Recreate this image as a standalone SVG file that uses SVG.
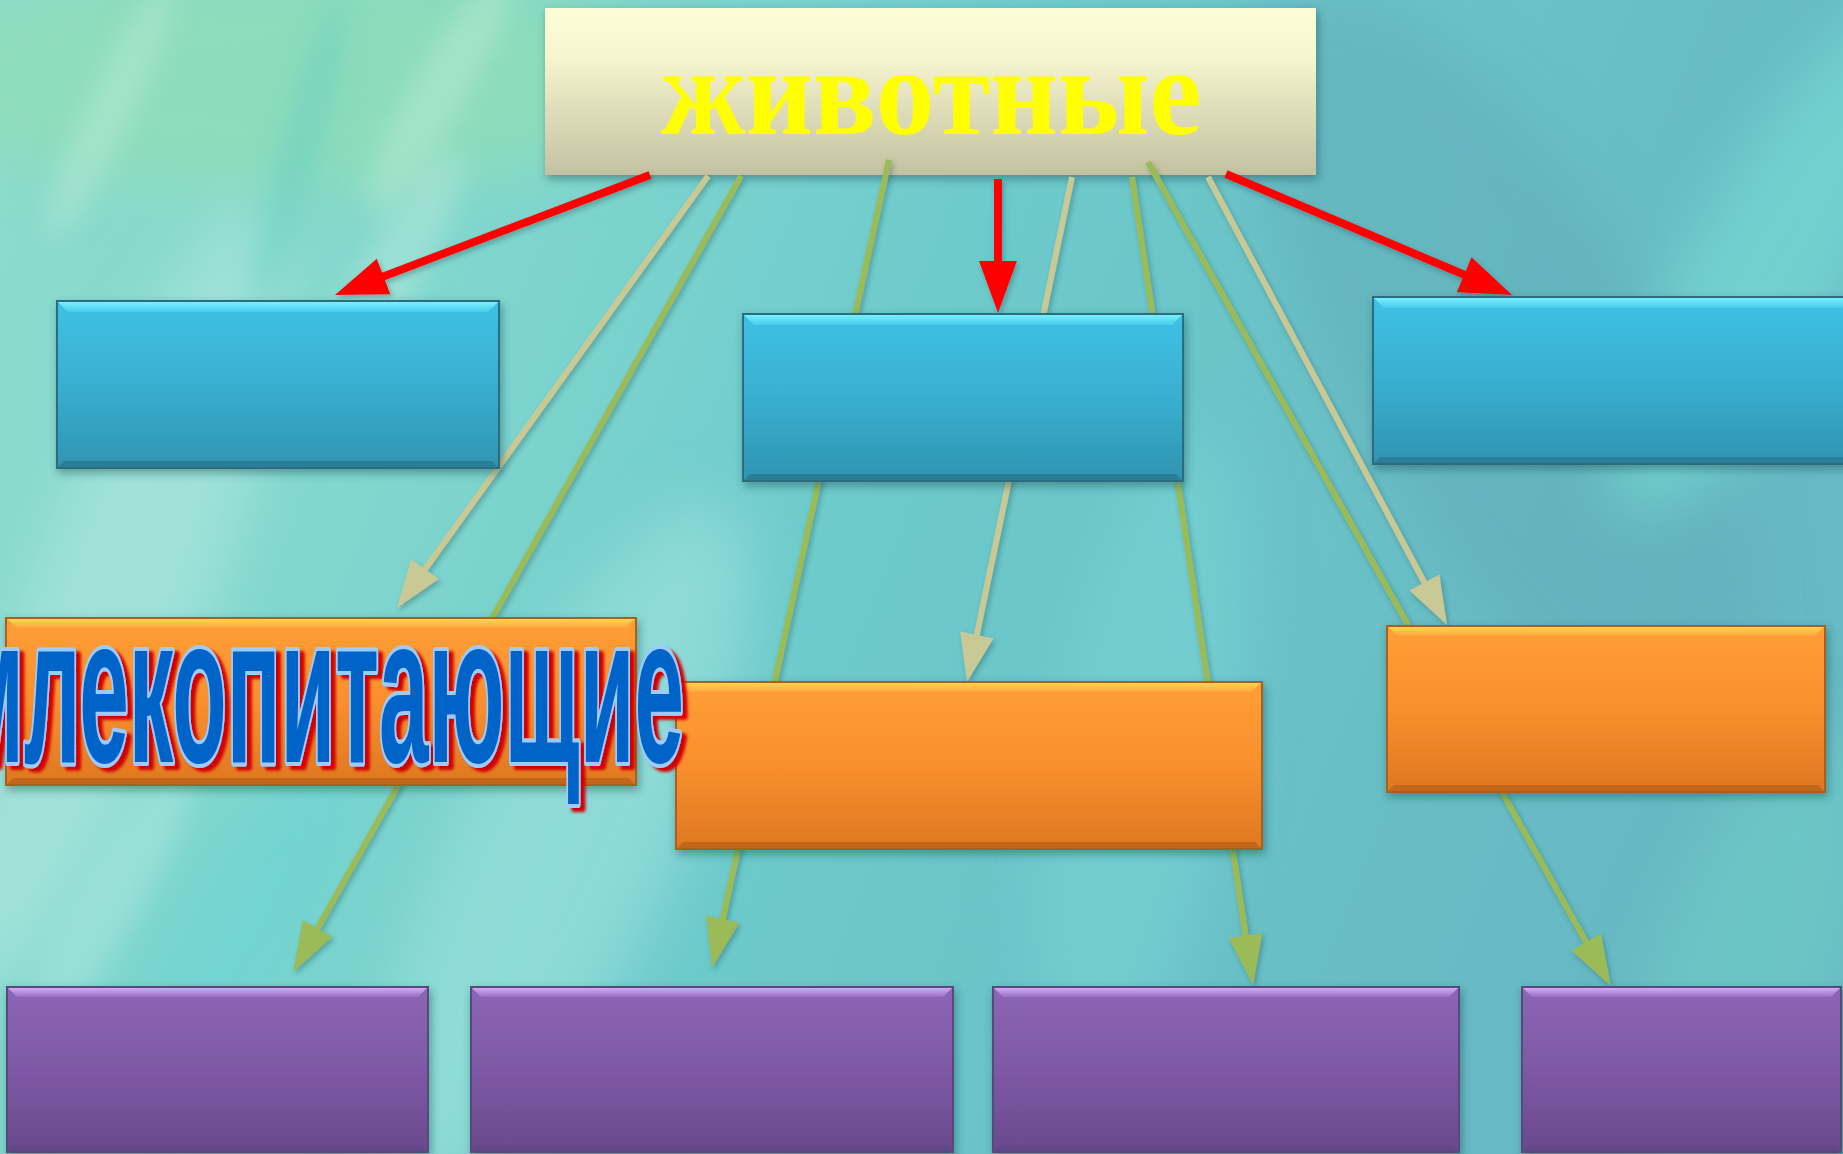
<svg xmlns="http://www.w3.org/2000/svg" width="1843" height="1154" viewBox="0 0 1843 1154">
<style>
.lnR{stroke:#FF0000;stroke-width:8;fill:none;marker-end:url(#mR)}
.lnK{stroke:#C9C995;stroke-width:6;fill:none;marker-end:url(#mK)}
.lnG{stroke:#9BBB59;stroke-width:6;fill:none;marker-end:url(#mG)}
.bdB{fill:url(#gBlue);stroke:#2B6C80;stroke-width:2}
.bdO{fill:url(#gOrange);stroke:#A8601F;stroke-width:2}
.bdP{fill:url(#gPurple);stroke:#584878;stroke-width:2}
.tB{fill:url(#gBlueTop)}
.tO{fill:url(#gOrangeTop)}
.tP{fill:url(#gPurpleTop)}
.btB{fill:#2B7E97}
.btO{fill:#C2661C}
.btP{fill:#62478A}
</style>
<defs>
<linearGradient id="bg" x1="0" y1="0" x2="1" y2="0.25">
<stop offset="0" stop-color="#8EDCCC"/>
<stop offset="0.3" stop-color="#80D6CE"/>
<stop offset="0.55" stop-color="#6DCACB"/>
<stop offset="1" stop-color="#67B9C3"/>
</linearGradient>
<filter id="blur40" x="-50%" y="-50%" width="200%" height="200%"><feGaussianBlur stdDeviation="30"/></filter>
<filter id="blur15" x="-50%" y="-50%" width="200%" height="200%"><feGaussianBlur stdDeviation="14"/></filter>
<filter id="sh" x="-10%" y="-10%" width="120%" height="130%"><feDropShadow dx="2" dy="4" stdDeviation="4" flood-color="#1E4650" flood-opacity="0.45"/></filter>
<filter id="lsh" x="-20%" y="-20%" width="140%" height="140%"><feDropShadow dx="2" dy="3" stdDeviation="2.5" flood-color="#1E4650" flood-opacity="0.35"/></filter>
<filter id="redsh" x="-10%" y="-20%" width="120%" height="140%"><feDropShadow dx="5" dy="4" stdDeviation="1.8" flood-color="#D00000" flood-opacity="1"/></filter>
<linearGradient id="gTitle" x1="0" y1="0" x2="0" y2="1">
<stop offset="0" stop-color="#FDFDD8"/>
<stop offset="0.3" stop-color="#F6F5CE"/>
<stop offset="0.6" stop-color="#E0DEBA"/>
<stop offset="1" stop-color="#C3C1A1"/>
</linearGradient>
<linearGradient id="gBlue" x1="0" y1="0" x2="0" y2="1">
<stop offset="0" stop-color="#3FC1E5"/>
<stop offset="0.5" stop-color="#39AFD0"/>
<stop offset="1" stop-color="#2F94B1"/>
</linearGradient>
<linearGradient id="gBlueTop" x1="0" y1="0" x2="0" y2="1">
<stop offset="0" stop-color="#78F0FF"/>
<stop offset="1" stop-color="#48CBEA"/>
</linearGradient>
<linearGradient id="gOrange" x1="0" y1="0" x2="0" y2="1">
<stop offset="0" stop-color="#FF9F36"/>
<stop offset="0.5" stop-color="#F98F2D"/>
<stop offset="1" stop-color="#DE7722"/>
</linearGradient>
<linearGradient id="gOrangeTop" x1="0" y1="0" x2="0" y2="1">
<stop offset="0" stop-color="#FFD45A"/>
<stop offset="1" stop-color="#FFA63A"/>
</linearGradient>
<linearGradient id="gPurple" x1="0" y1="0" x2="0" y2="1">
<stop offset="0" stop-color="#8C66B6"/>
<stop offset="0.5" stop-color="#7E59A5"/>
<stop offset="1" stop-color="#69498C"/>
</linearGradient>
<linearGradient id="gPurpleTop" x1="0" y1="0" x2="0" y2="1">
<stop offset="0" stop-color="#D4AAF8"/>
<stop offset="1" stop-color="#9571C4"/>
</linearGradient>
<marker id="mR" markerUnits="userSpaceOnUse" markerWidth="60" markerHeight="60" refX="22" refY="19" orient="auto" overflow="visible"><path d="M0,0 L52,19 L0,38 z" fill="#FF0000"/></marker>
<marker id="mK" markerUnits="userSpaceOnUse" markerWidth="60" markerHeight="60" refX="18" refY="17" orient="auto" overflow="visible"><path d="M0,0 L48,17 L0,34 z" fill="#C9C995"/></marker>
<marker id="mG" markerUnits="userSpaceOnUse" markerWidth="60" markerHeight="60" refX="20" refY="17" orient="auto" overflow="visible"><path d="M0,0 L50,17 L0,34 z" fill="#9BBB59"/></marker>
</defs>

<g id="background">
<rect x="0" y="0" width="1843" height="1154" fill="url(#bg)"/>
<g filter="url(#blur40)">
<ellipse cx="300" cy="80" rx="380" ry="110" fill="#8EDDB6" opacity="0.8"/>
<ellipse cx="120" cy="600" rx="90" ry="420" fill="#A9E6DE" opacity="0.7" transform="rotate(20 120 600)"/>
<ellipse cx="560" cy="850" rx="110" ry="380" fill="#9EE2DE" opacity="0.6" transform="rotate(25 560 850)"/>
<ellipse cx="230" cy="950" rx="70" ry="240" fill="#6CD3D0" opacity="0.6" transform="rotate(30 230 950)"/>
<ellipse cx="1500" cy="360" rx="160" ry="420" fill="#60ABB8" opacity="0.5" transform="rotate(-30 1500 360)"/>
<ellipse cx="1780" cy="250" rx="80" ry="300" fill="#74D6D2" opacity="0.8" transform="rotate(30 1780 250)"/>
<ellipse cx="1140" cy="760" rx="90" ry="330" fill="#78D4D6" opacity="0.6" transform="rotate(10 1140 760)"/>
<ellipse cx="1750" cy="960" rx="90" ry="250" fill="#6FCDC6" opacity="0.6" transform="rotate(20 1750 960)"/>
</g>
<g filter="url(#blur15)" opacity="0.55">
<ellipse cx="110" cy="110" rx="22" ry="140" fill="#B6EAD6" transform="rotate(25 110 110)"/>
<ellipse cx="300" cy="150" rx="20" ry="160" fill="#6ACFC0" transform="rotate(15 300 150)"/>
<ellipse cx="440" cy="90" rx="26" ry="140" fill="#B8EAD0" transform="rotate(30 440 90)"/>
<ellipse cx="380" cy="290" rx="30" ry="160" fill="#B2E8DA" transform="rotate(30 380 290)"/>
<ellipse cx="110" cy="900" rx="30" ry="160" fill="#A8E6E0" transform="rotate(30 110 900)"/>
</g>
</g>

<g id="title" filter="url(#sh)">
<rect x="545" y="8" width="771" height="167" fill="url(#gTitle)"/>
<text x="931" y="134" font-family="'Liberation Serif','DejaVu Serif',serif" font-weight="bold" font-size="124" fill="#FFFF00" text-anchor="middle" textLength="541" lengthAdjust="spacingAndGlyphs">животные</text>
</g>

<g id="connectors" filter="url(#lsh)">
<path class="lnK" d="M708,176 L414.5,583.7"/>
<path class="lnG" d="M741,176 L307.7,945.9"/>
<path class="lnG" d="M889,160 L718.4,938.7"/>
<path class="lnK" d="M1072,177 L973.1,652.6"/>
<path class="lnG" d="M1132,177 L1248.6,955.3"/>
<path class="lnG" d="M1148,162 L1596,959.5"/>
<path class="lnK" d="M1208,177 L1432.9,598.5"/>
<path class="lnR" d="M650,175 L363,284.3"/>
<path class="lnR" d="M998,179 L998,283"/>
<path class="lnR" d="M1226,174 L1484.4,283.3"/>
</g>

<g id="blue1" filter="url(#sh)">
<rect class="bdB" x="57" y="301" width="442" height="167"/>
<polygon class="tB" points="58,302 498,302 488,312 68,312"/>
<polygon class="btB" points="58,467 498,467 492,461 64,461"/>
</g>
<g id="blue2" filter="url(#sh)">
<rect class="bdB" x="743" y="314" width="440" height="167"/>
<polygon class="tB" points="744,315 1182,315 1172,325 754,325"/>
<polygon class="btB" points="744,480 1182,480 1176,474 750,474"/>
</g>
<g id="blue3" filter="url(#sh)">
<rect class="bdB" x="1373" y="297" width="480" height="167"/>
<polygon class="tB" points="1374,298 1852,298 1842,308 1384,308"/>
<polygon class="btB" points="1374,463 1852,463 1846,457 1380,457"/>
</g>

<g id="orange1" filter="url(#sh)">
<rect class="bdO" x="6" y="618" width="630" height="167"/>
<polygon class="tO" points="7,619 635,619 625,628 17,628"/>
<polygon class="btO" points="7,784 635,784 629,778 13,778"/>
</g>
<g id="orange2" filter="url(#sh)">
<rect class="bdO" x="676" y="682" width="586" height="167"/>
<polygon class="tO" points="677,683 1261,683 1251,692 687,692"/>
<polygon class="btO" points="677,848 1261,848 1255,842 683,842"/>
</g>
<g id="orange3" filter="url(#sh)">
<rect class="bdO" x="1387" y="626" width="438" height="166"/>
<polygon class="tO" points="1388,627 1824,627 1814,636 1398,636"/>
<polygon class="btO" points="1388,791 1824,791 1818,785 1394,785"/>
</g>

<g id="purple1" filter="url(#sh)">
<rect class="bdP" x="7" y="987" width="421" height="165"/>
<polygon class="tP" points="8,988 427,988 418,997 17,997"/>
<polygon class="btP" points="8,1151 427,1151 421,1145 14,1145"/>
</g>
<g id="purple2" filter="url(#sh)">
<rect class="bdP" x="471" y="987" width="482" height="165"/>
<polygon class="tP" points="472,988 952,988 943,997 481,997"/>
<polygon class="btP" points="472,1151 952,1151 946,1145 478,1145"/>
</g>
<g id="purple3" filter="url(#sh)">
<rect class="bdP" x="993" y="987" width="466" height="165"/>
<polygon class="tP" points="994,988 1458,988 1449,997 1003,997"/>
<polygon class="btP" points="994,1151 1458,1151 1452,1145 1000,1145"/>
</g>
<g id="purple4" filter="url(#sh)">
<rect class="bdP" x="1522" y="987" width="319" height="165"/>
<polygon class="tP" points="1523,988 1840,988 1831,997 1532,997"/>
<polygon class="btP" points="1523,1151 1840,1151 1834,1145 1529,1145"/>
</g>

<g id="label-mammals" filter="url(#redsh)">
<text x="-42" y="762" font-family="'Liberation Sans','Arial',sans-serif" font-weight="bold" font-size="210" fill="#0563C8" stroke="#9CCBFF" stroke-width="8" stroke-linejoin="round" paint-order="stroke" textLength="726" lengthAdjust="spacingAndGlyphs">млекопитающие</text>
</g>
</svg>
